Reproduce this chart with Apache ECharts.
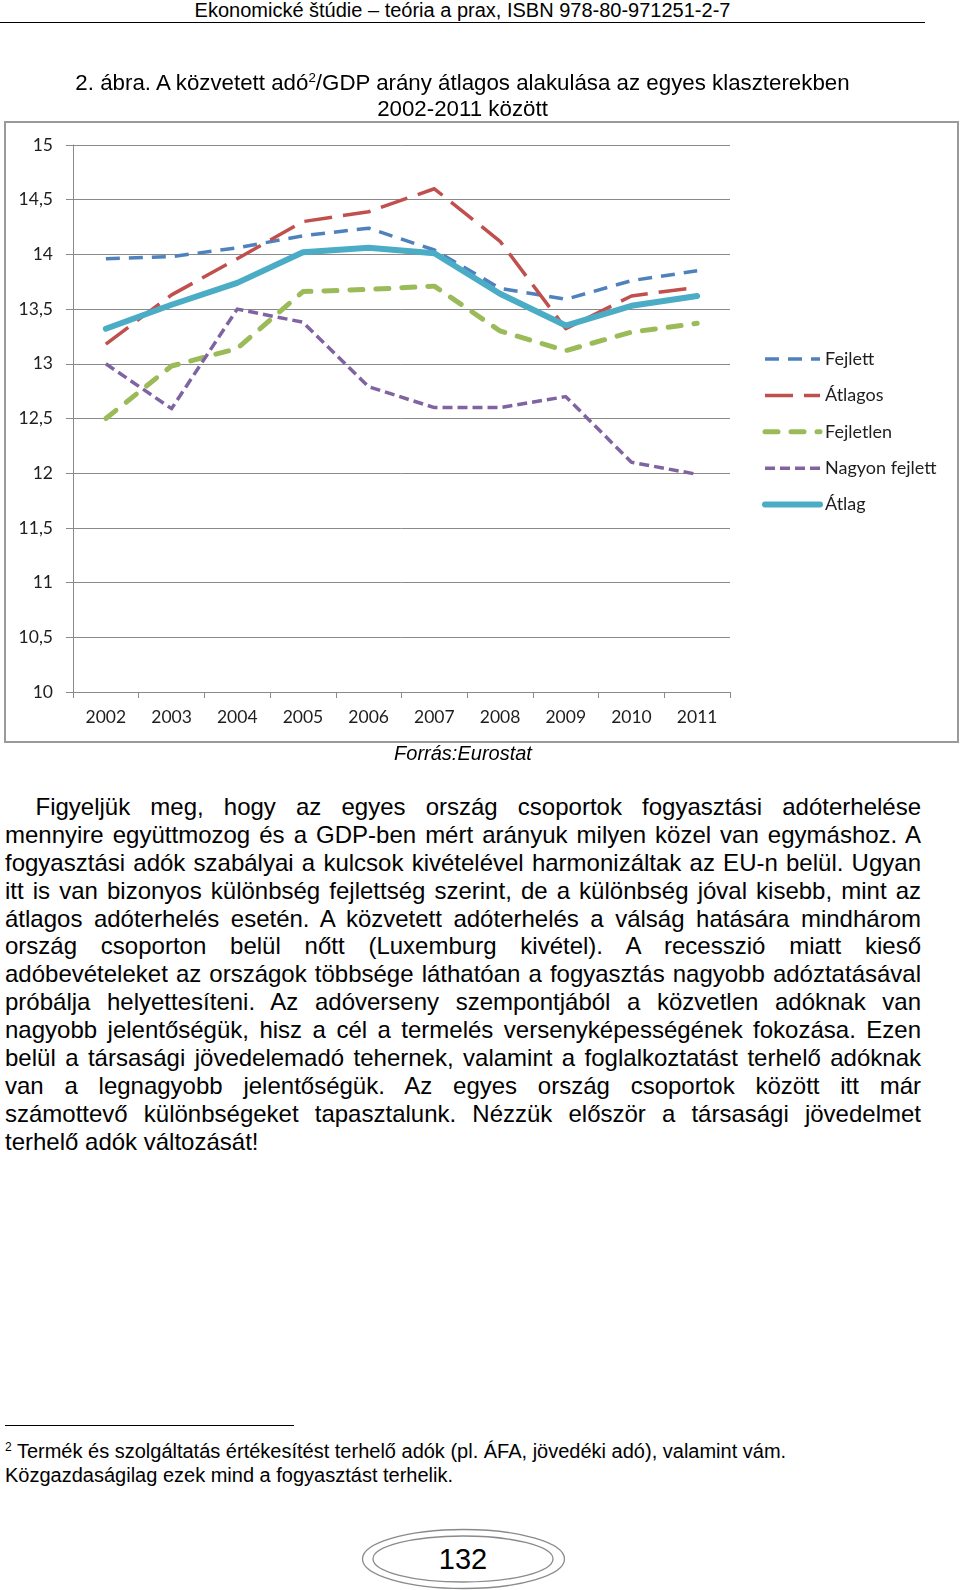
<!DOCTYPE html>
<html>
<head>
<meta charset="utf-8">
<script src="https://cdn.jsdelivr.net/npm/echarts@6/dist/echarts.min.js"></script>
<style>
html,body{margin:0;padding:0;background:#fff;}
body{width:960px;height:1590px;position:relative;overflow:hidden;font-family:"Liberation Sans",Arial,Helvetica,sans-serif;color:#000;}
.abs{position:absolute;white-space:nowrap;}
#chart{position:absolute;left:0;top:0;width:960px;height:765px;}
.body-line{position:absolute;white-space:nowrap;font-size:24px;line-height:28px;}
sup{font-size:0.6em;line-height:0;vertical-align:0.6em;}
</style>
</head>
<body>
<div class="abs" style="left:0;width:925px;top:-1px;font-size:20px;line-height:22px;text-align:center;">Ekonomické štúdie – teória a prax, ISBN 978-80-971251-2-7</div>
<div class="abs" style="left:0;top:22px;width:925px;height:1px;background:#000;"></div>

<div id="chart"></div>

<div class="abs" style="left:0;width:925px;top:70px;font-size:22.3px;line-height:26px;text-align:center;">2. ábra. A közvetett adó<sup>2</sup>/GDP arány átlagos alakulása az egyes klaszterekben</div>
<div class="abs" style="left:0;width:925px;top:95.5px;font-size:22.3px;line-height:26px;text-align:center;">2002-2011 között</div>

<div class="abs" style="left:0;width:926px;top:741px;font-size:20px;line-height:24px;text-align:center;font-style:italic;">Forrás:Eurostat</div>

<div id="bodytext"></div>

<div class="abs" style="left:5px;top:1425px;width:289px;height:1px;background:#000;"></div>
<div class="abs" style="left:5px;top:1439px;font-size:20px;line-height:24px;"><sup>2</sup> Termék és szolgáltatás értékesítést terhelő adók (pl. ÁFA, jövedéki adó), valamint vám.</div>
<div class="abs" style="left:5px;top:1463px;font-size:20px;line-height:24px;">Közgazdaságilag ezek mind a fogyasztást terhelik.</div>

<svg class="abs" style="left:0;top:1520px;" width="960" height="70">
  <ellipse cx="463.5" cy="39" rx="101" ry="29.5" fill="none" stroke="#8a8a8a" stroke-width="1.3"/>
  <ellipse cx="463" cy="39" rx="90" ry="23" fill="none" stroke="#8a8a8a" stroke-width="1.3"/>
</svg>
<div class="abs" style="left:0;width:926px;top:1542px;font-size:29px;line-height:34px;text-align:center;">132</div>

<script>
// ---- data ----
const years = ['2002','2003','2004','2005','2006','2007','2008','2009','2010','2011'];
const seriesNames = ['Fejlett','Átlagos','Fejletlen','Nagyon fejlett','Átlag'];
const fejlett       = [13.96, 13.98, 14.06, 14.17, 14.24, 14.04, 13.69, 13.59, 13.76, 13.85];
const atlagos       = [13.18, 13.63, 13.96, 14.30, 14.39, 14.60, 14.12, 13.32, 13.62, 13.70];
const fejletlen     = [12.50, 12.98, 13.14, 13.66, 13.68, 13.71, 13.30, 13.12, 13.29, 13.37];
const nagyonFejlett = [13.00, 12.59, 13.50, 13.38, 12.79, 12.60, 12.60, 12.70, 12.10, 11.99];
const atlag         = [13.32, 13.54, 13.74, 14.02, 14.06, 14.01, 13.64, 13.35, 13.53, 13.62];
const yMin = 10, yMax = 15, yStep = 0.5;

const bodyLines = [
  'Figyeljük meg, hogy az egyes ország csoportok fogyasztási adóterhelése',
  'mennyire együttmozog és a GDP-ben mért arányuk milyen közel van egymáshoz. A',
  'fogyasztási adók szabályai a kulcsok kivételével harmonizáltak az EU-n belül. Ugyan',
  'itt is van bizonyos különbség fejlettség szerint, de a különbség jóval kisebb, mint az',
  'átlagos adóterhelés esetén. A közvetett adóterhelés a válság hatására mindhárom',
  'ország csoporton belül nőtt (Luxemburg kivétel). A recesszió miatt kieső',
  'adóbevételeket az országok többsége láthatóan a fogyasztás nagyobb adóztatásával',
  'próbálja helyettesíteni. Az adóverseny szempontjából a közvetlen adóknak van',
  'nagyobb jelentőségük, hisz a cél a termelés versenyképességének fokozása. Ezen',
  'belül a társasági jövedelemadó tehernek, valamint a foglalkoztatást terhelő adóknak',
  'van a legnagyobb jelentőségük.  Az egyes ország csoportok között itt már',
  'számottevő különbségeket tapasztalunk. Nézzük először a társasági jövedelmet',
  'terhelő adók változását!'
];

// ---- body text (justified) ----
const bt = document.getElementById('bodytext');
const rightEdge = 921;
bodyLines.forEach((t, i) => {
  const d = document.createElement('div');
  d.className = 'body-line';
  const left = i === 0 ? 35.5 : 5;
  d.style.left = left + 'px';
  d.style.top = (793 + i * 27.875) + 'px';
  d.textContent = t.replace(/  +/g, ' ');
  bt.appendChild(d);
  if (i < bodyLines.length - 1) {
    const w = d.getBoundingClientRect().width;
    const spaces = (d.textContent.match(/ /g) || []).length;
    if (spaces > 0) {
      const extra = (rightEdge - left - w) / spaces;
      d.style.wordSpacing = extra + 'px';
    }
  }
});

// ---- chart ----
const chart = echarts.init(document.getElementById('chart'), null, {renderer: 'canvas'});
const axisColor = '#8a8a8a';
const labelFont = {fontFamily: 'Lato', fontSize: 17.5, color: '#1e1e1e'};
const styles = [
  {color: '#4F81BD', width: 3.5, type: [14, 9], cap: 'butt'},
  {color: '#C0504D', width: 3.5, type: [28, 11], cap: 'butt'},
  {color: '#9BBB59', width: 5, type: [13, 13], cap: 'round'},
  {color: '#8064A2', width: 3.5, type: [10, 5], cap: 'butt'},
  {color: '#4BACC6', width: 6, type: 'solid', cap: 'round'}
];
const datas = [fejlett, atlagos, fejletlen, nagyonFejlett, atlag];

chart.setOption({
  animation: false,
  grid: {left: 73, top: 145, width: 657, height: 547, containLabel: false},
  xAxis: {
    type: 'category', data: years, boundaryGap: true,
    axisLine: {lineStyle: {color: axisColor, width: 1}},
    axisTick: {show: true, length: 6, lineStyle: {color: axisColor}},
    axisLabel: Object.assign({margin: 16}, labelFont),
    splitLine: {show: false}
  },
  yAxis: {
    type: 'value', min: yMin, max: yMax, interval: yStep,
    axisLine: {show: true, lineStyle: {color: axisColor, width: 1}},
    axisTick: {show: true, length: 7, lineStyle: {color: axisColor}},
    axisLabel: Object.assign({margin: 20, formatter: v => String(v).replace('.', ',')}, labelFont),
    splitLine: {show: true, lineStyle: {color: axisColor, width: 1}}
  },
  legend: {
    orient: 'vertical', left: 757, top: 344,
    itemWidth: 55, itemHeight: 20, itemGap: 16.4,
    textStyle: {fontFamily: 'Lato', fontSize: 18, color: '#1e1e1e', lineHeight: 20, padding: [0, 0, 0, 0]},
    itemStyle: {opacity: 0, color: 'transparent', borderWidth: 0},
    lineStyle: {width: 'inherit'},
    data: seriesNames
  },
  graphic: [{
    type: 'rect', silent: true, z: -10,
    shape: {x: 5, y: 122, width: 953, height: 620},
    style: {fill: 'none', stroke: '#9a9a9a', lineWidth: 2}
  }],
  series: seriesNames.map((n, i) => ({
    name: n, type: 'line', data: datas[i],
    symbol: 'none', showSymbol: false, smooth: false,
    color: styles[i].color,
    lineStyle: {color: styles[i].color, width: styles[i].width, type: styles[i].type, cap: styles[i].cap, join: 'round'},
    z: 2 + i
  }))
});
</script>
</body>
</html>
